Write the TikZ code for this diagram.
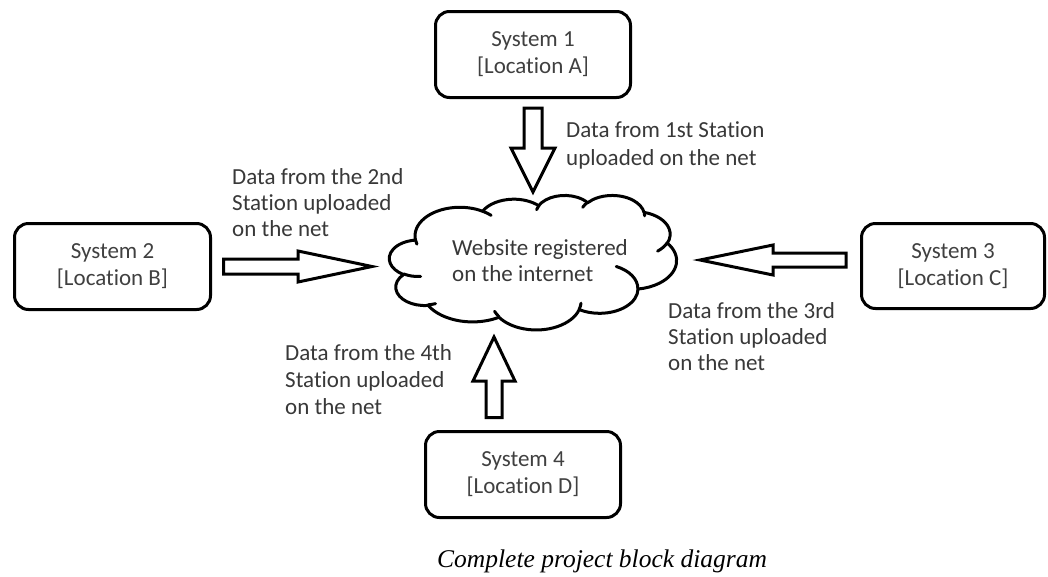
\documentclass[tikz,border=0pt]{standalone}
\usepackage{fontspec}
\setmainfont{Carlito}[Ligatures=NoCommon]
\newfontfamily\capfont{Liberation Serif}
\usetikzlibrary{calc}
\begin{document}
\begin{tikzpicture}[x=1pt,y=-1pt,
  sysbox/.style={draw,line width=3pt,rounded corners=14pt,align=center,text=black!75,
    font=\fontsize{23}{27}\selectfont,inner sep=0pt},
  lbl/.style={align=left,inner sep=0pt,anchor=west,text=black!78,font=\fontsize{23}{26}\selectfont},
  barrow/.style={draw,line width=3pt,fill=white},
  cloudline/.style={line width=3pt,line join=round,line cap=round}
]
\useasboundingbox (0,0) rectangle (1048,576);

% systems
\node[sysbox,minimum width=195pt,minimum height=86pt] (s1) at (533,54.5) {System 1\\{}[Location A]};
\node[sysbox,minimum width=196pt,minimum height=86pt] (s2) at (112.5,266.5) {System 2\\{}[Location B]};
\node[sysbox,minimum width=183pt,minimum height=85pt] (s3) at (953,266) {System 3\\{}[Location C]};
\node[sysbox,minimum width=195pt,minimum height=86pt] (s4) at (523,474.5) {System 4\\{}[Location D]};

% cloud (Office-style cloud outline)
\begin{scope}[xshift=389.5pt,yshift=-195pt,x=0.066435pt,y=-0.031134pt]
\draw[cloudline,fill=white] (390,1437)
  \foreach \wr/\hr/\st/\sw in {675.3/919.0/-190.4875/123.7805, 533.3/726.7/-144.1024/89.9452,
     436.5/594.5/-145.8079/99.7230, 485.7/659.5/-130.9861/117.2417, 533.3/727.3/-78.7089/109.0269,
     677.5/922.0/-46.2673/130.2690, 578.5/786.7/0.6250/114.0333, 675.2/921.5/22.4516/115.1726,
     772.0/1054.3/66.2426/75.7110, 436.0/591.8/-274.9421/146.7356, 434.5/594.5/-246.8285/152.5189}
  { arc[x radius=\wr, y radius=\hr,
        start angle={atan2(\wr*sin(\st),\hr*cos(\st))},
        delta angle={mod(atan2(\wr*sin(\st+\sw),\hr*cos(\st+\sw))-atan2(\wr*sin(\st),\hr*cos(\st))+720,360)}] }
  -- cycle;
\foreach \px/\py/\wr/\hr/\st/\sw in {469.3/2617.7/434.5/594.5/86.7420/26.4295,
     692.8/3489.9/436.0/591.8/73.6105/11.4475, 1647.8/3909.0/675.2/921.5/137.6242/14.0811,
     2882.7/3475.1/675.2/921.5/6.4533/15.9984, 3412.9/2295.4/578.5/786.7/-70.2924/70.9174,
     4179.8/1535.4/533.3/727.3/30.3180/27.7515, 3832.4/542.6/485.7/659.5/-13.7443/14.8589,
     2907.8/395.2/485.7/659.5/-149.1815/18.1954, 2214.1/472.0/436.5/594.5/-163.4943/17.9060,
     1400.0/519.2/675.3/919.0/-66.7070/12.3194, 412.7/1578.9/675.3/919.0/157.6544/11.8582}
  { \draw[cloudline] (\px,\py) arc[x radius=\wr, y radius=\hr,
        start angle={atan2(\wr*sin(\st),\hr*cos(\st))},
        delta angle={mod(atan2(\wr*sin(\st+\sw),\hr*cos(\st+\sw))-atan2(\wr*sin(\st),\hr*cos(\st))+720,360)}]; }
\end{scope}
\node[lbl] (web) at (452,260.5) {Website registered\\on the internet};

% labels
\node[lbl,font=\fontsize{23}{28}\selectfont] (l1) at (566,145.5) {Data from 1st Station\\uploaded on the net};
\node[lbl] (l2) at (232,202.5) {Data from the 2nd\\Station uploaded\\on the net};
\node[lbl] (l3) at (668,336.5) {Data from the 3rd\\Station uploaded\\on the net};
\node[lbl,font=\fontsize{23}{27}\selectfont] (l4) at (285,380) {Data from the 4th\\Station uploaded\\on the net};

% block arrows
\coordinate (a1s) at (533,108);
\coordinate (a1e) at (533,192);
\draw[barrow] ($(a1s)+(-9,0)$) -- ($(a1s)+(9,0)$) -- ($(a1e)+(9,-44)$) -- ($(a1e)+(22,-44)$)
  -- (a1e) -- ($(a1e)+(-22,-44)$) -- ($(a1e)+(-9,-44)$) -- cycle;

\coordinate (a2s) at (223.5,266.5);
\coordinate (a2e) at (372,266.5);
\draw[barrow] ($(a2s)+(0,-7.5)$) -- ($(a2e)+(-74,-7.5)$) -- ($(a2e)+(-74,-15.5)$) -- (a2e)
  -- ($(a2e)+(-74,15.5)$) -- ($(a2e)+(-74,7.5)$) -- ($(a2s)+(0,7.5)$) -- cycle;

\coordinate (a3s) at (846,260);
\coordinate (a3e) at (700,260);
\draw[barrow] ($(a3s)+(0,-7)$) -- ($(a3e)+(73,-7)$) -- ($(a3e)+(73,-15)$) -- (a3e)
  -- ($(a3e)+(73,15)$) -- ($(a3e)+(73,7)$) -- ($(a3s)+(0,7)$) -- cycle;

\coordinate (a4s) at (494,417.5);
\coordinate (a4e) at (494,337);
\draw[barrow] ($(a4s)+(-8,0)$) -- ($(a4s)+(8,0)$) -- ($(a4e)+(8,44)$) -- ($(a4e)+(21,44)$)
  -- (a4e) -- ($(a4e)+(-21,44)$) -- ($(a4e)+(-8,44)$) -- cycle;

% caption
\node[font=\capfont\itshape\fontsize{25.5}{30}\selectfont,anchor=west,inner sep=0pt] (cap) at (437,561) {Complete project block diagram};
\end{tikzpicture}
\end{document}
